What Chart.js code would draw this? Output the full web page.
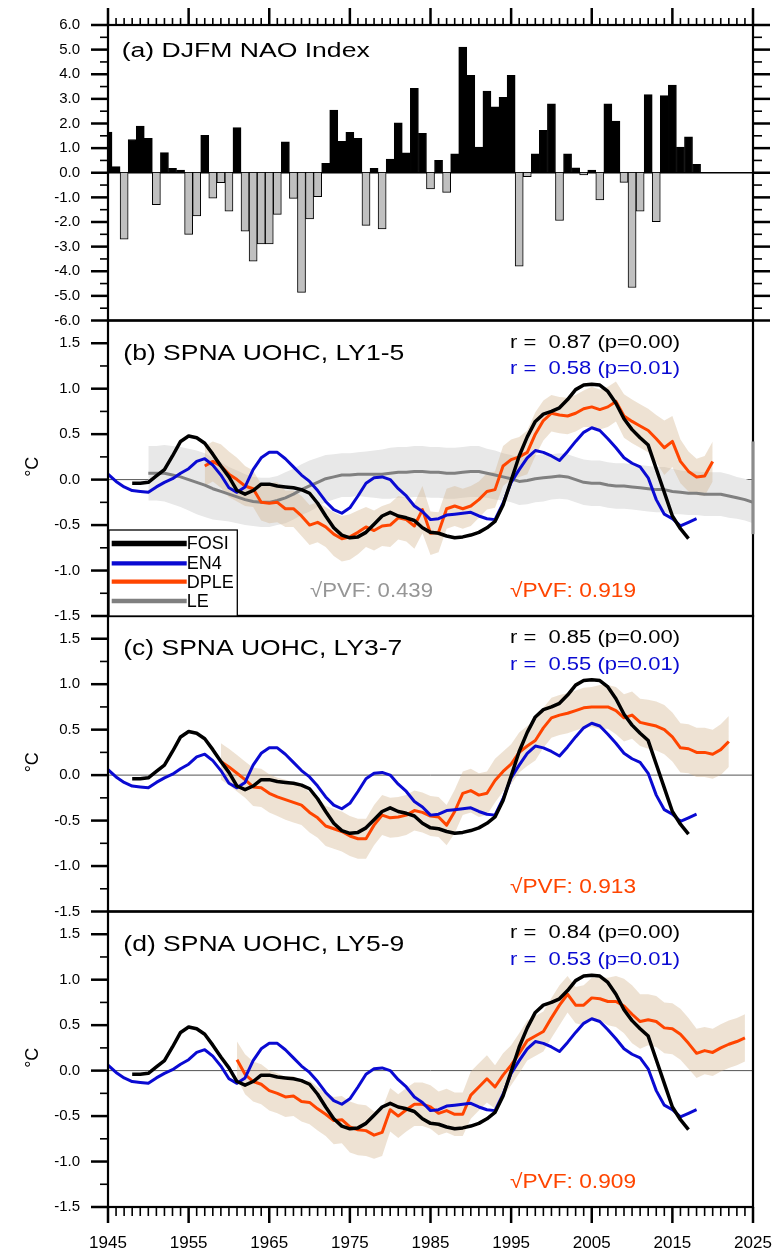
<!DOCTYPE html>
<html>
<head>
<meta charset="utf-8">
<script src="https://cdn.jsdelivr.net/npm/chart.js@4.4.1/dist/chart.umd.min.js"></script>
<style>
  html, body { margin: 0; padding: 0; background: #fff; }
  canvas { display: block; }
</style>
</head>
<body>
<canvas id="lienzo" width="781" height="1253"></canvas>
<script>
"use strict";

/* ── Datos ───────────────────────────── */
const xTickYears = [1945, 1955, 1965, 1975, 1985, 1995, 2005, 2015, 2025];
const naoTicks = [-6, -5, -4, -3, -2, -1, 0, 1, 2, 3, 4, 5, 6];
const ohcTicks = [-1.5, -1.0, -0.5, 0.0, 0.5, 1.0, 1.5];

// (a) DJFM NAO index, 1945-2018
const naoStart = 1945;
const naoIndex = [
  1.65, 0.25, -2.7, 1.35, 1.9, 1.4, -1.3, 0.82, 0.18, 0.11,
  -2.5, -1.75, 1.52, -1.03, -0.4, -1.56, 1.83, -2.37, -3.59, -2.89,
  -2.89, -1.69, 1.26, -1.04, -4.86, -1.87, -0.97, 0.38, 2.55, 1.28,
  1.64, 1.4, -2.14, 0.18, -2.28, 0.56, 2.03, 0.81, 3.43, 1.6,
  -0.66, 0.5, -0.8, 0.77, 5.1, 3.96, 1.04, 3.32, 2.68, 3.06,
  3.96, -3.79, -0.16, 0.77, 1.72, 2.8, -1.94, 0.77, 0.2, -0.09,
  0.11, -1.1, 2.8, 2.1, -0.39, -4.66, -1.56, 3.17, -1.99, 3.13,
  3.56, 1.04, 1.46, 0.34,
];

// FOSI, 1948-2017
const fosiStart = 1948;
const fosi = [
  -0.04, -0.04, -0.03, 0.04, 0.11, 0.26, 0.42, 0.48, 0.46, 0.40,
  0.28, 0.15, 0.03, -0.12, -0.16, -0.12, -0.05, -0.05, -0.07, -0.08,
  -0.09, -0.11, -0.15, -0.26, -0.40, -0.53, -0.61, -0.64, -0.63, -0.58,
  -0.49, -0.40, -0.36, -0.40, -0.42, -0.45, -0.53, -0.58, -0.59, -0.62,
  -0.64, -0.63, -0.61, -0.58, -0.53, -0.46, -0.28, -0.01, 0.26, 0.47,
  0.64, 0.72, 0.75, 0.79, 0.88, 0.99, 1.04, 1.05, 1.04, 0.97,
  0.84, 0.67, 0.55, 0.46, 0.38, 0.12, -0.14, -0.40, -0.54, -0.65,
];

// EN4, 1945-2018
const en4Start = 1945;
const en4 = [
  0.06, -0.02, -0.08, -0.12, -0.13, -0.14, -0.08, -0.03, 0.01, 0.07,
  0.12, 0.20, 0.23, 0.16, 0.05, -0.09, -0.14, -0.08, 0.11, 0.24,
  0.30, 0.30, 0.23, 0.14, 0.05, -0.02, -0.12, -0.24, -0.33, -0.37,
  -0.31, -0.18, -0.04, 0.02, 0.03, 0.00, -0.10, -0.18, -0.29, -0.35,
  -0.44, -0.43, -0.39, -0.38, -0.37, -0.36, -0.40, -0.43, -0.44, -0.26,
  -0.03, 0.11, 0.24, 0.32, 0.30, 0.26, 0.21, 0.31, 0.42, 0.52,
  0.57, 0.54, 0.45, 0.35, 0.24, 0.18, 0.14, 0.02, -0.22, -0.38,
  -0.43, -0.51, -0.47, -0.43,
];

// LE ensemble mean and spread, 1950-2025
const leStart = 1950;
const leMean = [
  0.07, 0.07, 0.07, 0.05, 0.03, 0.00, -0.03, -0.06, -0.10, -0.13,
  -0.16, -0.19, -0.22, -0.24, -0.25, -0.25, -0.23, -0.20, -0.16, -0.11,
  -0.07, -0.03, 0.01, 0.03, 0.05, 0.05, 0.06, 0.06, 0.06, 0.06,
  0.07, 0.08, 0.08, 0.09, 0.09, 0.08, 0.08, 0.07, 0.07, 0.08,
  0.09, 0.09, 0.07, 0.05, 0.03, 0.01, -0.02, -0.01, 0.01, 0.02,
  0.03, 0.04, 0.03, 0.00, -0.03, -0.04, -0.04, -0.06, -0.07, -0.07,
  -0.08, -0.09, -0.10, -0.11, -0.11, -0.13, -0.14, -0.15, -0.15, -0.16,
  -0.16, -0.16, -0.18, -0.20, -0.22, -0.25,
];
const leSpread = [
  0.30, 0.30, 0.31, 0.32, 0.33, 0.34, 0.35, 0.35, 0.34, 0.32,
  0.30, 0.29, 0.28, 0.27, 0.27, 0.27, 0.27, 0.28, 0.28, 0.28,
  0.28, 0.27, 0.26, 0.25, 0.24, 0.24, 0.24, 0.25, 0.26, 0.27,
  0.28, 0.28, 0.28, 0.28, 0.28, 0.28, 0.28, 0.28, 0.28, 0.28,
  0.28, 0.28, 0.27, 0.27, 0.26, 0.26, 0.26, 0.26, 0.26, 0.26,
  0.25, 0.25, 0.25, 0.25, 0.25, 0.25, 0.25, 0.25, 0.25, 0.25,
  0.25, 0.25, 0.25, 0.25, 0.25, 0.25, 0.24, 0.24, 0.24, 0.24,
  0.24, 0.24, 0.24, 0.23, 0.23, 0.23,
];

// DPLE, lead years 1-5 (1957-2020)
const dpleLY15Start = 1957;
const dpleLY15 = [
  0.15, 0.20, 0.15, 0.06, 0.00, -0.07, -0.10, -0.25, -0.26, -0.25,
  -0.32, -0.32, -0.40, -0.50, -0.47, -0.52, -0.60, -0.65, -0.63, -0.58,
  -0.52, -0.56, -0.51, -0.50, -0.42, -0.44, -0.51, -0.33, -0.59, -0.58,
  -0.32, -0.29, -0.32, -0.29, -0.22, -0.13, -0.11, 0.15, 0.22, 0.25,
  0.30, 0.50, 0.65, 0.73, 0.71, 0.70, 0.73, 0.78, 0.80, 0.77,
  0.80, 0.86, 0.70, 0.64, 0.59, 0.54, 0.45, 0.35, 0.42, 0.20,
  0.09, 0.03, 0.04, 0.20,
];
const dpleLY15Spread = [
  0.22, 0.22, 0.24, 0.25, 0.24, 0.22, 0.20, 0.20, 0.22, 0.22,
  0.20, 0.20, 0.22, 0.22, 0.22, 0.22, 0.24, 0.25, 0.25, 0.24,
  0.22, 0.22, 0.22, 0.24, 0.24, 0.24, 0.25, 0.26, 0.24, 0.22,
  0.22, 0.22, 0.22, 0.22, 0.20, 0.20, 0.20, 0.22, 0.22, 0.22,
  0.24, 0.24, 0.22, 0.20, 0.20, 0.20, 0.20, 0.20, 0.22, 0.22,
  0.22, 0.22, 0.24, 0.24, 0.24, 0.24, 0.26, 0.30, 0.28, 0.24,
  0.22, 0.20, 0.22, 0.22,
];

// DPLE, lead years 3-7 (1959-2022)
const dpleLY37Start = 1959;
const dpleLY37 = [
  0.15, 0.09, 0.02, -0.05, -0.13, -0.14, -0.20, -0.24, -0.27, -0.30,
  -0.33, -0.41, -0.47, -0.56, -0.59, -0.62, -0.67, -0.70, -0.70, -0.55,
  -0.44, -0.47, -0.46, -0.44, -0.39, -0.41, -0.45, -0.46, -0.55, -0.40,
  -0.20, -0.17, -0.22, -0.20, -0.06, 0.04, 0.12, 0.25, 0.32, 0.38,
  0.52, 0.63, 0.66, 0.68, 0.71, 0.74, 0.75, 0.75, 0.75, 0.71,
  0.63, 0.66, 0.58, 0.56, 0.54, 0.50, 0.42, 0.30, 0.29, 0.25,
  0.25, 0.23, 0.28, 0.37,
];
const dpleLY37Spread = [
  0.20, 0.20, 0.20, 0.20, 0.21, 0.21, 0.21, 0.21, 0.22, 0.22,
  0.22, 0.22, 0.22, 0.22, 0.22, 0.22, 0.22, 0.22, 0.22, 0.22,
  0.22, 0.22, 0.22, 0.22, 0.22, 0.22, 0.22, 0.22, 0.22, 0.24,
  0.24, 0.24, 0.24, 0.24, 0.24, 0.22, 0.22, 0.22, 0.22, 0.22,
  0.22, 0.22, 0.22, 0.22, 0.22, 0.22, 0.22, 0.24, 0.24, 0.26,
  0.26, 0.26, 0.26, 0.27, 0.27, 0.27, 0.27, 0.27, 0.27, 0.27,
  0.27, 0.27, 0.28, 0.28,
];

// DPLE, lead years 5-9 (1961-2024)
const dpleLY59Start = 1961;
const dpleLY59 = [
  0.12, -0.04, -0.12, -0.15, -0.22, -0.25, -0.29, -0.28, -0.34, -0.35,
  -0.42, -0.48, -0.55, -0.54, -0.62, -0.65, -0.66, -0.71, -0.68, -0.43,
  -0.50, -0.43, -0.37, -0.37, -0.40, -0.47, -0.44, -0.48, -0.48, -0.27,
  -0.18, -0.09, -0.18, -0.05, 0.06, 0.19, 0.33, 0.38, 0.43, 0.58,
  0.72, 0.84, 0.72, 0.72, 0.80, 0.79, 0.76, 0.76, 0.71, 0.62,
  0.54, 0.56, 0.54, 0.47, 0.46, 0.40, 0.30, 0.19, 0.22, 0.20,
  0.25, 0.29, 0.32, 0.36,
];
const dpleLY59Spread = [
  0.20, 0.22, 0.22, 0.22, 0.22, 0.22, 0.22, 0.22, 0.22, 0.24,
  0.24, 0.24, 0.26, 0.26, 0.28, 0.28, 0.28, 0.26, 0.26, 0.24,
  0.24, 0.24, 0.24, 0.24, 0.24, 0.24, 0.24, 0.24, 0.24, 0.26,
  0.26, 0.26, 0.24, 0.24, 0.22, 0.22, 0.22, 0.22, 0.22, 0.22,
  0.22, 0.20, 0.20, 0.22, 0.22, 0.24, 0.26, 0.28, 0.30, 0.32,
  0.30, 0.28, 0.28, 0.28, 0.28, 0.28, 0.28, 0.27, 0.26, 0.26,
  0.26, 0.26, 0.26, 0.26,
];

/* ── Estilos ───────────────────────────── */
const FUENTE = '"Liberation Sans", Arial, Helvetica, sans-serif';
const negro = "#000000";
const azul = "rgb(10,10,210)";
const naranja = "rgb(255,69,0)";
const gris = "rgb(128,128,128)";
const grisTexto = "rgb(150,150,150)";
const bandaLE = "rgb(232,232,232)";
const bandaDPLE = "rgba(210,180,140,0.38)";
const barraNeg = "rgb(192,192,192)";

Chart.defaults.font.family = FUENTE;

const toPoints = (start, values) => values.map((v, i) => ({ x: start + i, y: v }));
const bandPoints = (start, values, spread, sign) =>
  values.map((v, i) => ({ x: start + i, y: v + sign * spread[i] }));

function lineSet(start, values, color, width, axis, order) {
  return {
    type: "line",
    data: toPoints(start, values),
    yAxisID: axis,
    borderColor: color,
    borderWidth: width,
    pointRadius: 0,
    tension: 0,
    fill: false,
    borderJoinStyle: "round",
    order: order,
  };
}

function bandSets(start, values, spread, color, axis, order) {
  return [
    {
      type: "line",
      data: bandPoints(start, values, spread, 1),
      yAxisID: axis,
      borderWidth: 0,
      borderColor: "rgba(0,0,0,0)",
      backgroundColor: color,
      pointRadius: 0,
      tension: 0,
      fill: "+1",
      order: order,
    },
    {
      type: "line",
      data: bandPoints(start, values, spread, -1),
      yAxisID: axis,
      borderWidth: 0,
      borderColor: "rgba(0,0,0,0)",
      pointRadius: 0,
      tension: 0,
      fill: false,
      order: order + 1,
    },
  ];
}

const paneles = [
  { axis: "yB", start: dpleLY15Start, dple: dpleLY15, spread: dpleLY15Spread, conLE: true },
  { axis: "yC", start: dpleLY37Start, dple: dpleLY37, spread: dpleLY37Spread, conLE: false },
  { axis: "yD", start: dpleLY59Start, dple: dpleLY59, spread: dpleLY59Spread, conLE: false },
];

const datasets = [
  {
    type: "bar",
    data: toPoints(naoStart, naoIndex),
    yAxisID: "yA",
    backgroundColor: (c) => (c.raw && c.raw.y >= 0 ? negro : barraNeg),
    borderColor: negro,
    borderWidth: 1,
    barPercentage: 1,
    categoryPercentage: 1,
    order: 2,
  },
];

paneles.forEach((p) => {
  if (p.conLE) datasets.push(...bandSets(leStart, leMean, leSpread, bandaLE, p.axis, 30));
  datasets.push(...bandSets(p.start, p.dple, p.spread, bandaDPLE, p.axis, 20));
  if (p.conLE) datasets.push(lineSet(leStart, leMean, gris, 3, p.axis, 7));
  datasets.push(lineSet(p.start, p.dple, naranja, 3, p.axis, 6));
  datasets.push(lineSet(en4Start, en4, azul, 3, p.axis, 5));
  datasets.push(lineSet(fosiStart, fosi, negro, 3.5, p.axis, 4));
});

function yScale(min, max, ticks, weight) {
  return {
    type: "linear",
    position: "left",
    stack: "paneles",
    stackWeight: 1,
    weight: weight,
    min: min,
    max: max,
    offset: false,
    grid: { display: false, drawTicks: false },
    border: { display: false },
    ticks: {
      autoSkip: false,
      padding: 28,
      color: negro,
      font: { size: 15 },
      callback: (v) => Number(v).toFixed(1),
    },
    afterBuildTicks: (s) => { s.ticks = ticks.map((v) => ({ value: v })); },
    afterFit: (s) => {
      s.width = 108;
      s.paddingTop = 0;
      s.paddingBottom = 0;
    },
  };
}

/* ── Textos y ejes estilo NCL ───────────────────────────── */
const textos = [
  { t: "(a) DJFM NAO Index", x: 121.7, y: 57.3, size: 20.5, w: 248, color: negro },
  { t: "(b) SPNA UOHC, LY1-5", x: 123.3, y: 359.5, size: 22, w: 281, color: negro },
  { t: "(c) SPNA UOHC, LY3-7", x: 123.3, y: 655, size: 22, w: 279, color: negro },
  { t: "(d) SPNA UOHC, LY5-9", x: 123.3, y: 950.5, size: 22, w: 281, color: negro },
  { t: "r =  0.87 (p=0.00)", x: 510, y: 347.5, size: 17.5, w: 170, color: negro },
  { t: "r =  0.58 (p=0.01)", x: 510, y: 373.5, size: 17.5, w: 170, color: azul },
  { t: "r =  0.85 (p=0.00)", x: 510, y: 643.3, size: 17.5, w: 170, color: negro },
  { t: "r =  0.55 (p=0.01)", x: 510, y: 670, size: 17.5, w: 170, color: azul },
  { t: "r =  0.84 (p=0.00)", x: 510, y: 938.3, size: 17.5, w: 170, color: negro },
  { t: "r =  0.53 (p=0.01)", x: 510, y: 965, size: 17.5, w: 170, color: azul },
  { t: "\u221APVF: 0.439", x: 310, y: 596.7, size: 20, w: 123, color: grisTexto },
  { t: "\u221APVF: 0.919", x: 510, y: 596.7, size: 20, w: 126, color: naranja },
  { t: "\u221APVF: 0.913", x: 510, y: 892.7, size: 20, w: 126, color: naranja },
  { t: "\u221APVF: 0.909", x: 510, y: 1187.7, size: 20, w: 126, color: naranja },
];

const leyenda = [
  { t: "FOSI", color: negro, w: 5.3, y: 543.5 },
  { t: "EN4", color: azul, w: 4.3, y: 563.3 },
  { t: "DPLE", color: naranja, w: 4.3, y: 581.7 },
  { t: "LE", color: gris, w: 4.3, y: 601 },
];

function fitText(ctx, o) {
  ctx.save();
  ctx.font = `${o.size}px ${FUENTE}`;
  ctx.fillStyle = o.color;
  ctx.textBaseline = "alphabetic";
  ctx.textAlign = "left";
  const natural = ctx.measureText(o.t).width;
  ctx.translate(o.x, o.y);
  ctx.scale(o.w / natural, 1);
  ctx.fillText(o.t, 0, 0);
  ctx.restore();
}

function seg(ctx, x1, y1, x2, y2, w) {
  ctx.lineWidth = w;
  ctx.beginPath();
  ctx.moveTo(x1, y1);
  ctx.lineTo(x2, y2);
  ctx.stroke();
}

const fondoBlanco = {
  id: "fondoBlanco",
  beforeDraw(chart) {
    const ctx = chart.ctx;
    ctx.save();
    ctx.fillStyle = "#fff";
    ctx.fillRect(0, 0, chart.width, chart.height);
    ctx.restore();
  },
};

const decoracion = {
  id: "decoracion",
  beforeDatasetsDraw(chart) {
    const ctx = chart.ctx;
    const ca = chart.chartArea;
    ctx.save();
    ["yA", "yB", "yC", "yD"].forEach((id, i) => {
      const y0 = chart.scales[id].getPixelForValue(0);
      ctx.strokeStyle = i === 0 ? negro : "#555";
      seg(ctx, ca.left, y0, ca.right, y0, i === 0 ? 1.3 : 1);
    });
    ctx.restore();
  },
  afterDraw(chart) {
    const ctx = chart.ctx;
    const ca = chart.chartArea;
    const sx = chart.scales.x;
    const ejes = ["yA", "yB", "yC", "yD"].map((id) => chart.scales[id]);
    ctx.save();
    ctx.strokeStyle = negro;
    ctx.lineCap = "butt";

    // ticks izquierdos (y derechos en el panel a)
    ejes.forEach((s, i) => {
      const mayores = i === 0 ? naoTicks : ohcTicks;
      const paso = i === 0 ? 1 : 0.5;
      mayores.forEach((v) => {
        const y = s.getPixelForValue(v);
        seg(ctx, ca.left - 17, y, ca.left, y, 2.5);
        if (i === 0) seg(ctx, ca.right, y, ca.right + 17, y, 2.5);
        const m = v + paso / 2;
        if (m < s.max) {
          const ym = s.getPixelForValue(m);
          seg(ctx, ca.left - 8, ym, ca.left, ym, 1.6);
          if (i === 0) seg(ctx, ca.right, ym, ca.right + 9, ym, 1.6);
        }
      });
    });

    // ticks superiores e inferiores
    for (let yr = 1945; yr <= 2025; yr++) {
      const x = sx.getPixelForValue(yr);
      const mayor = (yr - 1945) % 10 === 0;
      seg(ctx, x, ejes[0].top, x, ejes[0].top - (mayor ? 17 : 7), mayor ? 2.5 : 1.6);
      seg(ctx, x, ejes[3].bottom, x, ejes[3].bottom + (mayor ? 16 : 9), mayor ? 2.5 : 1.6);
    }

    // marcos de los paneles
    ctx.lineWidth = 2.2;
    ejes.forEach((s) => ctx.strokeRect(ca.left, s.top, ca.right - ca.left, s.bottom - s.top));

    // borde gris de la banda LE sobre el eje derecho del panel b
    ctx.strokeStyle = "rgb(140,140,140)";
    seg(ctx, ca.right, ejes[1].getPixelForValue(0.42), ca.right, ejes[1].getPixelForValue(-0.6), 3);
    ctx.strokeStyle = negro;

    // textos
    textos.forEach((o) => fitText(ctx, o));

    // etiqueta °C
    ctx.fillStyle = negro;
    ctx.font = `18px ${FUENTE}`;
    ctx.textAlign = "center";
    ctx.textBaseline = "middle";
    ejes.slice(1).forEach((s) => {
      ctx.save();
      ctx.translate(33, (s.top + s.bottom) / 2 - 1.5);
      ctx.rotate(-Math.PI / 2);
      ctx.fillText("\u00B0C", 0, 0);
      ctx.restore();
    });

    // leyenda
    ctx.fillStyle = "#fff";
    ctx.fillRect(109, 530, 128.3, ejes[1].bottom - 530);
    ctx.lineWidth = 1.3;
    ctx.strokeRect(109, 530, 128.3, ejes[1].bottom - 530);
    ctx.font = `18px ${FUENTE}`;
    ctx.textAlign = "left";
    leyenda.forEach((e) => {
      ctx.strokeStyle = e.color;
      seg(ctx, 111.7, e.y, 186.7, e.y, e.w);
      ctx.fillStyle = negro;
      ctx.fillText(e.t, 186.7, e.y + 1);
    });
    ctx.restore();
  },
};

/* ── Gráfico ───────────────────────────── */
const lienzo = document.getElementById("lienzo");
const grafico = new Chart(lienzo, {
  type: "line",
  data: { datasets: datasets },
  options: {
    responsive: false,
    devicePixelRatio: 1,
    animation: false,
    events: [],
    layout: { padding: { top: 25, right: 28, bottom: 0, left: 0 } },
    plugins: {
      legend: { display: false },
      tooltip: { enabled: false },
    },
    scales: {
      x: {
        type: "linear",
        position: "bottom",
        min: 1945,
        max: 2025,
        offset: false,
        grid: { display: false, drawTicks: false },
        border: { display: false },
        ticks: {
          autoSkip: false,
          maxRotation: 0,
          padding: 26,
          color: negro,
          font: { size: 17 },
          callback: (v) => String(v),
        },
        afterBuildTicks: (s) => { s.ticks = xTickYears.map((v) => ({ value: v })); },
        afterFit: (s) => {
          s.height = 46;
          s.paddingLeft = 0;
          s.paddingRight = 0;
        },
      },
      yA: yScale(-6, 6, naoTicks, 4),
      yB: yScale(-1.5, 1.75, ohcTicks, 3),
      yC: yScale(-1.5, 1.75, ohcTicks, 2),
      yD: yScale(-1.5, 1.75, ohcTicks, 1),
    },
  },
  plugins: [fondoBlanco, decoracion],
});
</script>
</body>
</html>
